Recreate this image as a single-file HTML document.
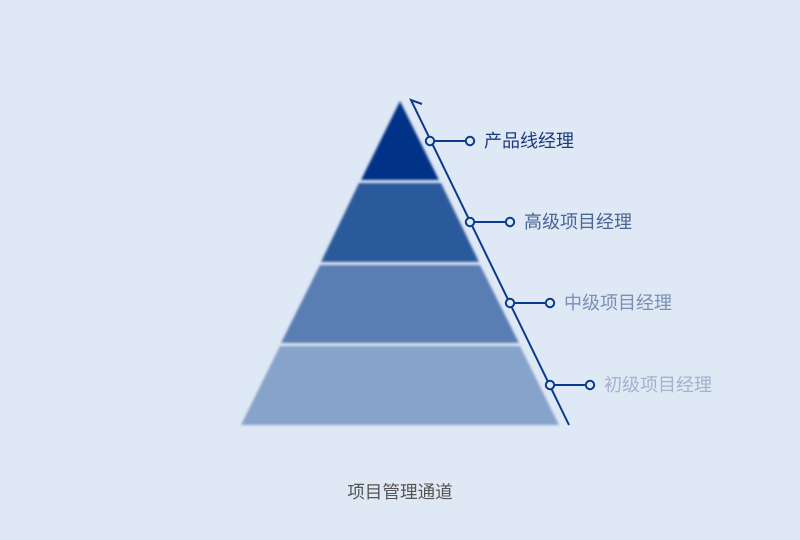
<!DOCTYPE html>
<html><head><meta charset="utf-8"><style>
html,body{margin:0;padding:0;background:#dfe8f5;}
svg{display:block}
text{font-family:"Liberation Sans","Noto Sans CJK SC",sans-serif;}
</style></head><body>
<svg width="800" height="540" viewBox="0 0 800 540" xmlns="http://www.w3.org/2000/svg">
<defs><filter id="b" x="-5%" y="-5%" width="110%" height="110%"><feGaussianBlur stdDeviation="1.2"/></filter></defs>
<rect width="800" height="540" fill="#dfe8f5"/>
<g filter="url(#b)">
<polygon points="400,101 439,180 361,180" fill="#003087"/>
<polygon points="359,183 441,183 479,262 321,262" fill="#2c5a9b"/>
<polygon points="320,265 480,265 519,343 281,343" fill="#5a7eb3"/>
<polygon points="280,346 520,346 559,425 241,425" fill="#86a3ca"/>
</g>
<g stroke="#0a3a8c" stroke-width="2" fill="none">
<polyline points="422,104 411,100 569,425"/>
<line x1="430" y1="141" x2="470" y2="141"/>
<line x1="470" y1="222" x2="510" y2="222"/>
<line x1="510" y1="303" x2="550" y2="303"/>
<line x1="550" y1="385" x2="590" y2="385"/>
</g>
<g stroke="#0a3a8c" stroke-width="2" fill="#dfe8f5">
<circle cx="430" cy="141" r="4.2"/><circle cx="470" cy="141" r="4.2"/>
<circle cx="470" cy="222" r="4.2"/><circle cx="510" cy="222" r="4.2"/>
<circle cx="510" cy="303" r="4.2"/><circle cx="550" cy="303" r="4.2"/>
<circle cx="550" cy="385" r="4.2"/><circle cx="590" cy="385" r="4.2"/>
</g>
<g font-size="18">
<text x="484" y="147" fill="#1c3b7c">产品线经理</text>
<text x="524" y="228" fill="#4b6595">高级项目经理</text>
<text x="564" y="309" fill="#7a8fb6">中级项目经理</text>
<text x="604" y="391" fill="#a3b2cd">初级项目经理</text>
</g>
<text x="400" y="498" font-size="17.6" fill="#555" text-anchor="middle">项目管理通道</text>
</svg>
</body></html>
